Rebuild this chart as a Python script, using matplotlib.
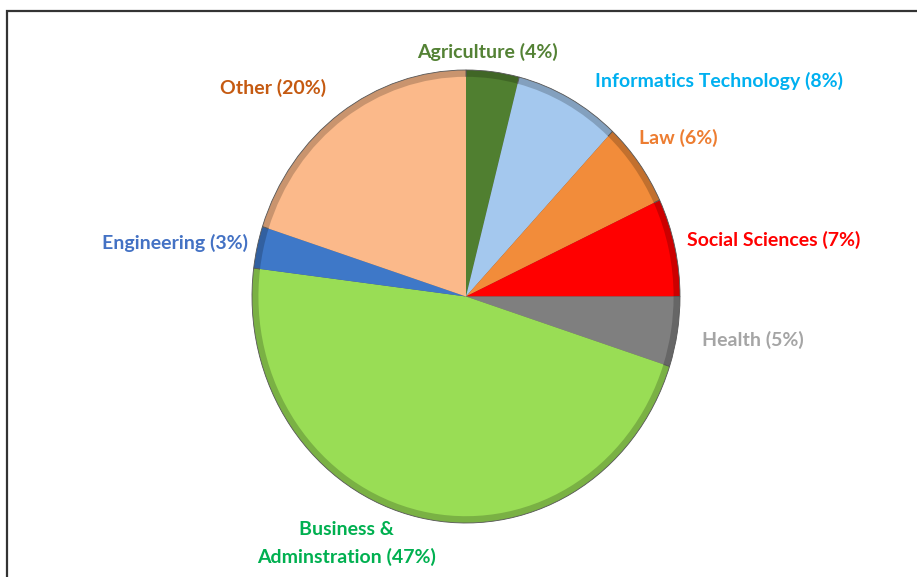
import matplotlib
matplotlib.use('Agg')
import matplotlib.pyplot as plt
from matplotlib.patches import Rectangle

# data
fields = ['Agriculture', 'Informatics Technology', 'Law', 'Social Sciences',
          'Health', 'Business &\nAdminstration', 'Engineering', 'Other']
shares = [4, 8, 6, 7, 5, 47, 3, 20]
slice_colors = ['#507f30', '#a4c8ee', '#f28c3a', '#ff0000',
                '#7f7f7f', '#99dd55', '#3e78c8', '#fbb98a']
label_colors = ['#548235', '#00b0f0', '#ed7d31', '#ff0000',
                '#a5a5a5', '#00b050', '#4472c4', '#c55a11']
# where each label sits (pie units, radius = 1)
label_pos = [(0.10, 1.08), (1.18, 0.95), (0.99, 0.70), (1.44, 0.25),
             (1.34, -0.19), (-0.56, -1.09), (-1.36, 0.235), (-0.90, 0.92)]

W, H = 917, 577
fig = plt.figure(figsize=(W / 100, H / 100), dpi=100)

# pie spans roughly x 252..680, y 70..523 px
ax = fig.add_axes([252 / W, (H - 523) / H, 428 / W, 453 / H])

# darker rim underneath, base colour on top -> a little bevel look
def shade(c, f):
    r, g, b = matplotlib.colors.to_rgb(c)
    return (r * f, g * f, b * f)

ax.pie(shares, colors=[shade(c, 0.8) for c in slice_colors],
       startangle=90, counterclock=False, radius=1.0,
       wedgeprops=dict(linewidth=0.6, edgecolor='#555555'))
ax.pie(shares, colors=slice_colors, startangle=90, counterclock=False,
       radius=0.97, wedgeprops=dict(linewidth=0))
ax.set_aspect('auto')
ax.set_xlim(-1, 1)
ax.set_ylim(-1, 1)

for name, pct, col, (x, y) in zip(fields, shares, label_colors, label_pos):
    ax.text(x, y, f'{name} ({pct}%)', color=col, fontsize=14,
            fontweight='bold', family='Lato', ha='center', va='center',
            linespacing=1.7, clip_on=False)

# outer chart frame (runs off the right and bottom of the picture)
fig.add_artist(Rectangle((7 / W, -0.1), 1.2, (H - 11) / H + 0.1,
                         transform=fig.transFigure, fill=False,
                         edgecolor='#333333', linewidth=1.6, clip_on=False))

fig.savefig('out.png', dpi=100)
